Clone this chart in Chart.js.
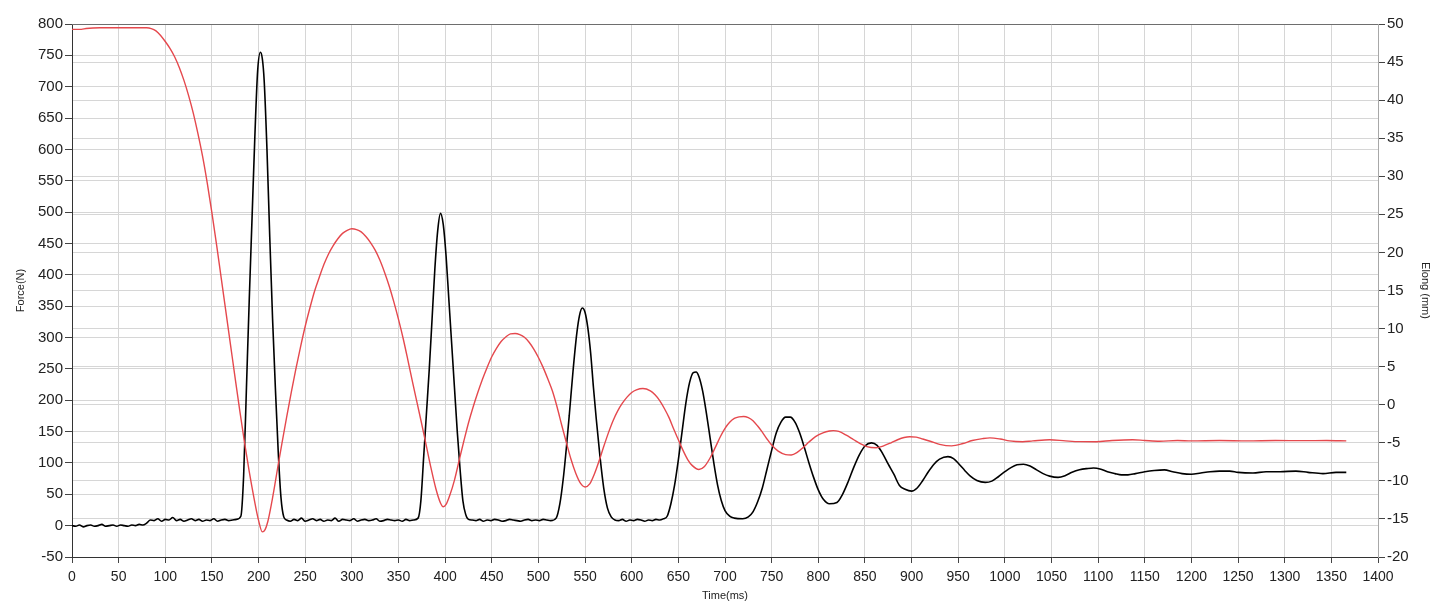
<!DOCTYPE html>
<html>
<head>
<meta charset="utf-8">
<script src="https://cdn.jsdelivr.net/npm/chart.js@4"></script>
<style>
  html, body { margin: 0; padding: 0; background: #fff; }
  #wrap { width: 1445px; height: 608px; position: relative; }
</style>
</head>
<body>
<div id="wrap"><canvas id="drop"></canvas></div>
<script>
// --- DATA ---
// force curve (black, left axis)
const forceTime = [0, 4, 8, 12, 16, 20, 24, 28, 32, 36, 40, 44, 48, 52, 56, 60, 64, 68, 72, 76,
  80, 84,
  88, 92, 96, 100, 104, 108, 112, 116, 120, 124, 128, 132, 136, 140, 144, 148, 152, 156, 160, 164, 168, 172, 176,
  181, 184, 187, 190, 193, 196, 199, 202, 204, 206, 209, 212, 215, 218, 221, 224, 227,
  230, 234, 238, 242, 246, 250, 254, 258, 262, 266, 270, 274, 278, 282, 286, 290, 294, 298, 302, 306,
  310, 314, 318, 322, 326, 330, 334, 338, 342, 346, 350, 354, 358, 362, 366,
  371, 374, 377, 380, 383, 386, 389, 392, 395, 398, 401, 404, 407, 410, 413, 416, 419, 422, 425,
  429, 433, 437, 441, 445, 449, 453, 457, 461, 465, 469, 473, 477, 481, 485, 489, 493, 497, 501, 505, 509, 513,
  519, 523, 527, 530, 533, 537, 541, 544, 547, 550, 553, 556, 559, 562, 566, 570, 574, 578, 582,
  586, 590, 594, 598, 602, 606, 610, 614, 618, 622, 626, 630, 634,
  638, 642, 646, 650, 654, 658, 662, 666, 669, 672, 676, 680, 684, 688, 692, 696, 700, 705, 710, 719,
  725, 730, 735, 740, 745, 750, 755, 760, 765, 770, 775, 780, 785, 790, 795, 800, 805, 812,
  820, 826, 832, 838, 844, 850, 857, 863, 869, 875, 881, 887, 893, 900,
  906, 912, 918, 924, 930, 939, 945, 951, 957, 963, 970, 979,
  986, 993, 1000, 1007, 1013, 1020, 1027, 1034, 1041, 1048, 1057,
  1065, 1072, 1080, 1088, 1095, 1103, 1110, 1118, 1125, 1132,
  1140, 1150, 1160, 1171, 1180, 1190, 1200, 1210, 1220, 1230, 1241, 1250, 1266, 1280, 1295, 1312, 1325, 1341, 1355, 1366];
const forceN = [0, -1, 1, -2, 0, 1, -1, 0, 2, -1, 0, 1, -1, 1, 0, -1, 1, 0, 2, 1,
  4, 9,
  8, 11, 7, 10, 9, 13, 8, 10, 7, 9, 11, 8, 10, 7, 9, 8, 11, 7, 9, 10, 8, 9, 10,
  15, 80, 220, 360, 490, 620, 725, 755, 745, 710, 600, 460, 330, 220, 120, 45, 14,
  9, 7, 10, 8, 12, 7, 9, 11, 8, 10, 7, 9, 8, 12, 7, 10, 9, 8, 11, 7,
  9, 10, 8, 9, 11, 7, 8, 10, 9, 8, 9, 7, 10, 8, 9,
  12, 40, 110, 180, 250, 330, 410, 470, 498, 480, 430, 360, 290, 220, 150, 90, 40, 18, 10,
  9, 8, 10, 7, 9, 8, 10, 9, 7, 8, 10, 9, 8, 7, 9, 10, 8, 9, 8, 10, 9, 8,
  12, 35, 80, 125, 175, 245, 305, 335, 347, 340, 315, 275, 220, 170, 110, 60, 28, 14, 9,
  8, 10, 7, 9, 8, 10, 9, 7, 9, 8, 10, 9, 11,
  15, 35, 65, 105, 150, 195, 228, 244, 245, 238, 215, 180, 140, 100, 65, 40, 24, 15, 12, 11,
  14, 22, 38, 60, 90, 120, 148, 165, 173, 173, 165, 148, 125, 100, 77, 57, 43, 35,
  37, 50, 70, 93, 113, 127, 132, 128, 115, 98, 82, 64, 58, 55,
  60, 72, 86, 98, 106, 110, 107, 98, 88, 79, 72, 69,
  71, 78, 86, 93, 97, 98, 95, 89, 83, 79, 77,
  80, 85, 89, 91, 92, 90, 86, 83, 81, 81,
  83, 86, 88, 89, 86, 83, 82, 84, 86, 87, 87, 85, 84, 86, 86, 87, 85, 83, 85, 85];

// elongation curve (red, right axis)
const elongTime = [0, 10, 15, 30, 50, 70, 80, 85, 90, 95, 100, 105, 110, 115, 120, 125, 130, 135, 140, 145,
  150, 155, 160, 165, 170, 175, 180, 185, 190, 195, 200, 204, 207, 210, 214, 218, 221, 225, 230, 235,
  240, 245, 250, 255, 260, 265, 270, 275, 280, 285, 290, 295, 300, 305, 310, 315, 320, 325, 330,
  335, 340, 345, 350, 355, 360, 365, 370, 375, 380, 385, 390, 395, 398, 401, 405, 410, 416, 420,
  425, 430, 435, 440, 445, 450, 455, 460, 465, 470, 475, 480, 485, 490, 495, 500, 505, 510, 515,
  520, 525, 530, 535, 540, 545, 550, 555, 560, 565, 570, 575, 580, 585, 590, 595, 600, 605, 612,
  620, 625, 630, 635, 640, 645, 650, 655, 660, 665, 672, 678, 684, 690, 695, 700, 705, 710, 715,
  720, 725, 730, 735, 740, 745, 750, 757, 765, 771, 777, 784, 790, 797, 805, 812, 816, 822, 830,
  838, 845, 852, 862, 870, 878, 885, 892, 898, 905, 912, 920, 930, 943, 955, 965, 976, 984, 995,
  1005, 1019, 1030, 1048, 1065, 1080, 1098, 1115, 1137, 1150, 1166, 1185, 1200, 1230, 1260, 1290,
  1320, 1345, 1366];
const elongMm = [49.3, 49.3, 49.4, 49.5, 49.5, 49.5, 49.5, 49.4, 49.1, 48.5, 47.7, 46.8, 45.7, 44.3, 42.6, 40.6, 38.3, 35.6, 32.6, 29.1,
  25.2, 21.0, 16.6, 12.2, 7.8, 3.4, -0.9, -5.0, -8.8, -12.2, -15.2, -16.7, -16.4, -15.3, -12.9, -10.1, -7.9, -5.1, -1.7, 1.6,
  4.7, 7.6, 10.3, 12.7, 14.9, 16.7, 18.4, 19.8, 20.9, 21.8, 22.5, 22.9, 23.1, 23.0, 22.7, 22.1, 21.3, 20.3, 19.0,
  17.4, 15.6, 13.5, 11.2, 8.7, 5.9, 3.0, 0.2, -2.6, -5.5, -8.4, -11.0, -12.9, -13.4, -13.1, -11.9, -9.9, -6.8, -4.8,
  -2.4, -0.3, 1.6, 3.35, 4.9, 6.3, 7.4, 8.3, 8.9, 9.3, 9.35, 9.2, 8.85, 8.2, 7.3, 6.2, 4.9, 3.4, 1.8,
  -0.3, -2.7, -5.0, -7.2, -9.0, -10.3, -10.8, -10.4, -9.1, -7.4, -5.5, -3.7, -2.1, -0.8, 0.2, 1.0, 1.6, 1.95, 2.13,
  1.82, 1.3, 0.54, -0.5, -1.7, -3.2, -4.6, -6.0, -7.2, -8.0, -8.5, -8.1, -7.0, -5.5, -4.2, -3.1, -2.3, -1.8, -1.6,
  -1.55, -1.7, -2.1, -2.8, -3.6, -4.5, -5.3, -6.1, -6.55, -6.6, -6.3, -5.6, -4.9, -4.2, -3.7, -3.45, -3.4, -3.5, -4.0,
  -4.6, -5.1, -5.5, -5.65, -5.4, -5.0, -4.6, -4.3, -4.2, -4.25, -4.5, -4.8, -5.2, -5.4, -5.1, -4.7, -4.45, -4.35, -4.5,
  -4.75, -4.86, -4.75, -4.6, -4.75, -4.85, -4.86, -4.7, -4.6, -4.7, -4.8, -4.7, -4.75, -4.7, -4.75, -4.7,
  -4.72, -4.7, -4.75];

// axis ranges / tick steps
const timeRange = [0, 1400], timeStep = 50;
const forceRange = [-50, 800], forceStep = 50;
const elongRange = [-20, 50], elongStep = 5;

// --- CHART ---
const toPoints = (xs, ys) => xs.map((x, i) => ({ x: x, y: ys[i] }));
const plain = v => String(v);

const GRID = '#d6d6d6';
const TICK = '#444';
const FONT = 'Liberation Sans, Arial, sans-serif';

// top edge of the plot box
const frame = {
  id: 'frame',
  afterDraw(chart) {
    const { ctx, chartArea: a } = chart;
    ctx.save();
    ctx.lineWidth = 1;
    ctx.strokeStyle = '#6e6e6e';
    ctx.beginPath();
    ctx.moveTo(a.left, a.top + 0.5);
    ctx.lineTo(a.right, a.top + 0.5);
    ctx.stroke();
    ctx.restore();
  }
};

new Chart(document.getElementById('drop'), {
  type: 'line',
  data: {
    datasets: [
      {
        label: 'Elong (mm)', data: toPoints(elongTime, elongMm), yAxisID: 'yR',
        borderColor: '#e5484d', borderWidth: 1.4, pointRadius: 0,
        cubicInterpolationMode: 'monotone', fill: false
      },
      {
        label: 'Force(N)', data: toPoints(forceTime, forceN), yAxisID: 'y',
        borderColor: '#000000', borderWidth: 1.6, pointRadius: 0,
        cubicInterpolationMode: 'monotone', fill: false
      }
    ]
  },
  options: {
    responsive: true,
    maintainAspectRatio: false,
    animation: false,
    events: [],
    layout: { padding: { top: 24, left: 0, right: 0, bottom: 0 } },
    plugins: { legend: { display: false }, tooltip: { enabled: false } },
    scales: {
      x: {
        type: 'linear', min: timeRange[0], max: timeRange[1],
        afterFit(s) { s.height = 51; },
        ticks: { stepSize: timeStep, autoSkip: false, maxRotation: 0, padding: 6, callback: plain,
                 color: '#222', font: { family: FONT, size: 14 } },
        grid: { color: GRID, tickColor: TICK, tickLength: 6 },
        border: { color: '#333', width: 1 },
        title: { display: true, text: 'Time(ms)', color: '#222',
                 font: { family: FONT, size: 11 }, padding: { top: 0, bottom: 5 } }
      },
      y: {
        position: 'left', min: forceRange[0], max: forceRange[1],
        afterFit(s) { s.width = 72; },
        ticks: { stepSize: forceStep, padding: 2, callback: plain, color: '#222', font: { family: FONT, size: 15 } },
        grid: { color: GRID, tickColor: TICK, tickLength: 7 },
        border: { color: '#333', width: 1 },
        title: { display: true, text: 'Force(N)', color: '#222',
                 font: { family: FONT, size: 11 }, padding: { top: 14, bottom: 0 } }
      },
      yR: {
        position: 'right', min: elongRange[0], max: elongRange[1],
        afterFit(s) { s.width = 67; },
        ticks: { stepSize: elongStep, padding: 2, callback: plain, color: '#222', font: { family: FONT, size: 15 } },
        grid: { color: GRID, tickColor: TICK, tickLength: 7 },
        border: { color: '#a8a8a8', width: 1 },
        title: { display: true, text: 'Elong (mm)', color: '#222',
                 font: { family: FONT, size: 11 }, padding: { top: 13, bottom: 0 } }
      }
    }
  },
  plugins: [frame]
});
</script>
</body>
</html>
